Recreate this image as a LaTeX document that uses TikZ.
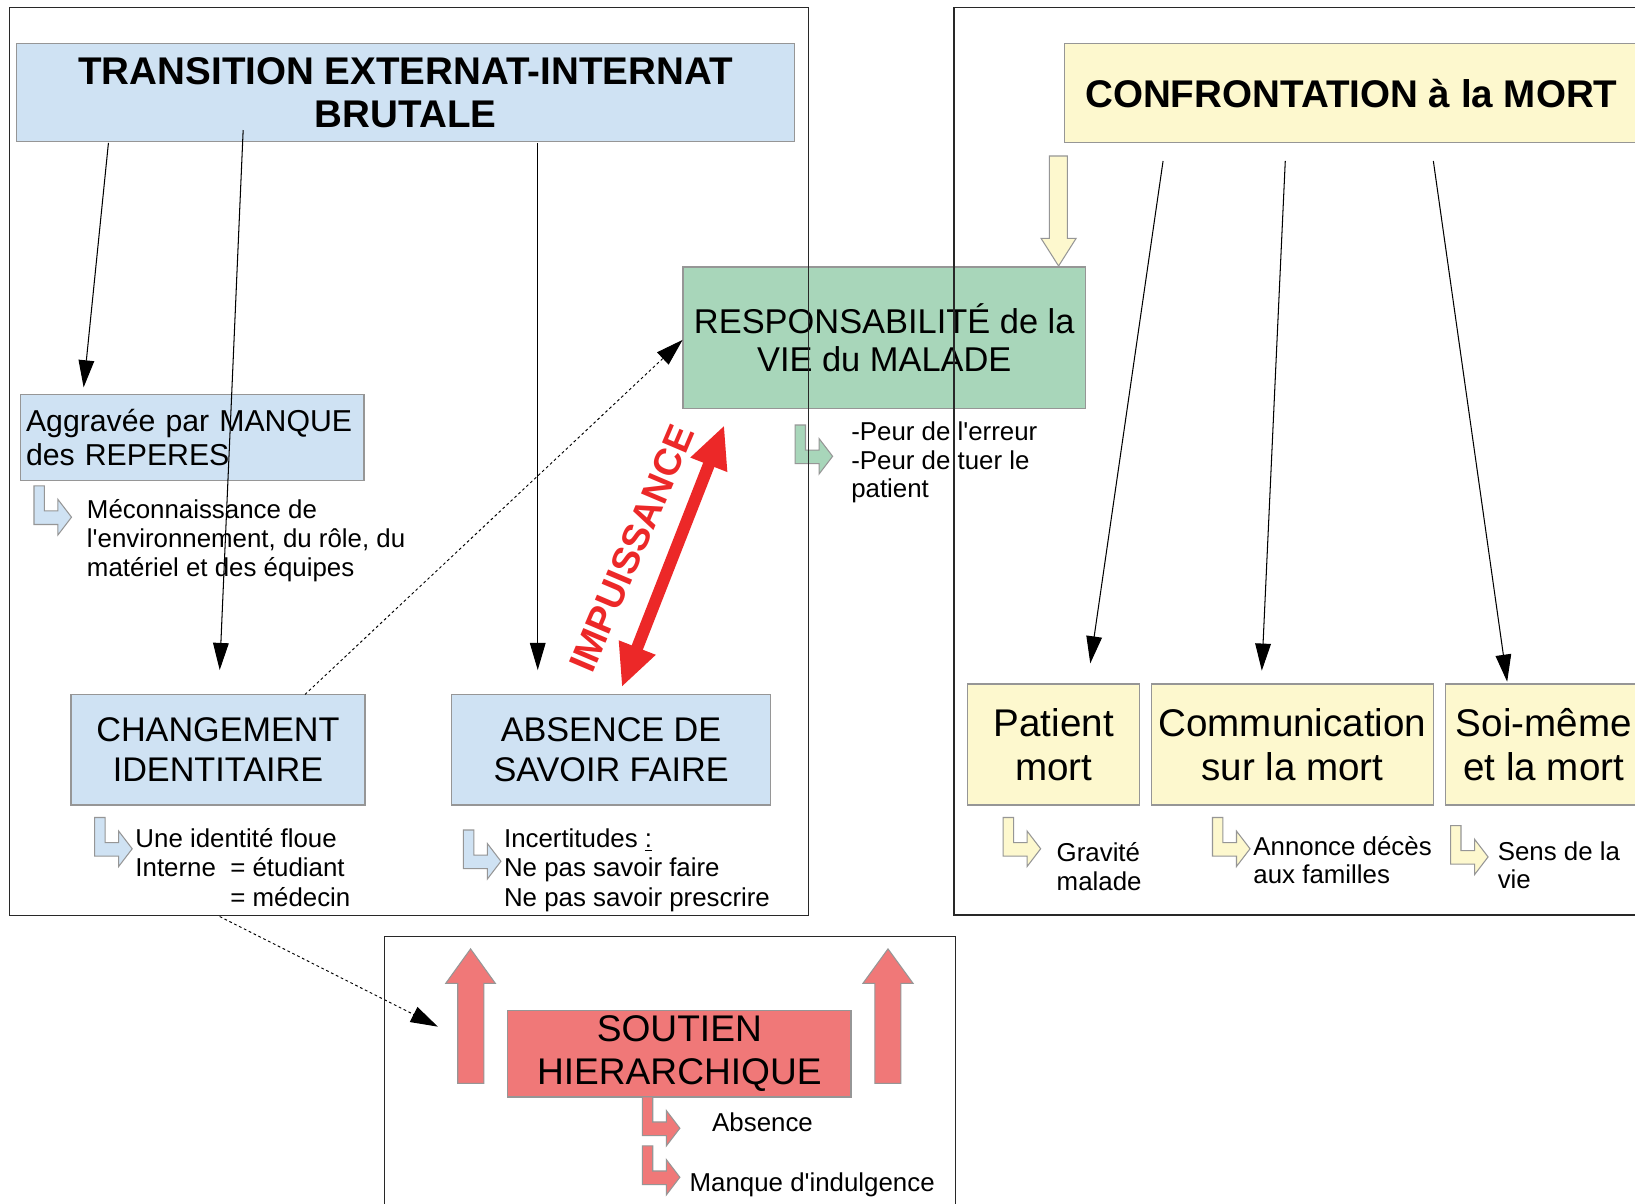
\documentclass[tikz,border=0pt]{standalone}
\usepackage{fontspec}
\setmainfont{Liberation Sans}
\usetikzlibrary{arrows.meta}
\definecolor{cblue}{RGB}{207,226,243}
\definecolor{cyel}{RGB}{253,248,206}
\definecolor{cgreen}{RGB}{168,214,186}
\definecolor{csalm}{RGB}{240,120,120}
\definecolor{cred}{RGB}{236,40,40}
\definecolor{cline}{RGB}{150,150,150}
\definecolor{cframe}{RGB}{40,40,40}
\begin{document}
\begin{tikzpicture}[x=0.5pt,y=-0.5pt,
 box/.style={draw=cline, line width=0.6pt, inner sep=0pt, outer sep=0pt, align=center},
 note/.style={anchor=base west, inner sep=0pt, align=left, font=\fontsize{12.4pt}{14pt}\selectfont},
 bentarrow/.pic={\path[pic actions] (0,0) -- (10,0) -- (10,24) -- (23,24) -- (23,13) -- (36,30) -- (23,47) -- (23,37) -- (0,37) -- cycle;},
 conn/.style={line width=0.5pt, -{Triangle[length=13pt,width=7.5pt]}},
 dconn/.style={line width=0.45pt, dash pattern=on 1.3pt off 1.3pt, -{Triangle[length=13pt,width=8pt]}},
 frame/.style={draw=cframe, line width=0.6pt},
 blockarr/.style={draw=cline, line width=0.5pt},
 bigfont/.style={font=\bfseries\fontsize{18.5pt}{20.75pt}\selectfont},
]
\useasboundingbox (0,0) rectangle (1568,1153.8);
\fill[white] (0,0) rectangle (1568,1153.8);
\clip (0,0) rectangle (1568,1153.8);

% main boxes
\node[box, fill=cblue, minimum width=373pt, minimum height=47pt, bigfont] (trans) at (389,89) {TRANSITION EXTERNAT-INTERNAT\\BRUTALE};
\node[box, fill=cyel, minimum width=275pt, minimum height=47.5pt, bigfont] (confr) at (1296,89.5) {CONFRONTATION à la MORT};
\node[box, fill=cgreen, minimum width=193pt, minimum height=68pt, font=\fontsize{16.5pt}{18.4pt}\selectfont] (resp) at (848,324) {RESPONSABILITÉ de la\\VIE du MALADE};
\node[box, fill=cblue, minimum width=164.5pt, minimum height=41.5pt, inner xsep=2.5pt, text width=159.5pt, align=left, font=\fontsize{14.5pt}{16.5pt}\selectfont] (aggr) at (184.5,419.5) {Aggravée par MANQUE\\des REPERES};
\node[box, fill=cblue, minimum width=141pt, minimum height=53pt, font=\fontsize{16.4pt}{19pt}\selectfont] (chg) at (209,719) {CHANGEMENT\\IDENTITAIRE};
\node[box, fill=cblue, minimum width=153pt, minimum height=53pt, font=\fontsize{16.4pt}{19pt}\selectfont] (abs) at (586,719) {ABSENCE DE\\SAVOIR FAIRE};
\node[box, fill=csalm, minimum width=164.5pt, minimum height=41.5pt, font=\fontsize{17.8pt}{20.8pt}\selectfont] (sout) at (651.5,1010.5) {SOUTIEN\\HIERARCHIQUE};
\node[box, fill=cyel, minimum width=82.5pt, minimum height=58pt, font=\fontsize{18.5pt}{21pt}\selectfont] (pm) at (1010.5,714) {Patient\\mort};
\node[box, fill=cyel, minimum width=135.5pt, minimum height=58pt, font=\fontsize{18.5pt}{21pt}\selectfont] (com) at (1239.5,714) {Communication\\sur la mort};
\node[box, fill=cyel, minimum width=94.5pt, minimum height=58pt, font=\fontsize{18.5pt}{21pt}\selectfont] (soi) at (1480.5,714) {Soi-même\\et la mort};

% block arrows
\draw[blockarr, fill=cyel] (1006.4,149.6) -- (1023.6,149.6) -- (1023.6,228.6) -- (1032,228.6) -- (1015.2,255.1) -- (998.4,228.6) -- (1006.4,228.6) -- cycle;
\draw[blockarr, fill=csalm] (439,1039) -- (464,1039) -- (464,943) -- (475,943) -- (451.3,910) -- (427.5,943) -- (439,943) -- cycle;
\draw[blockarr, fill=csalm] (839,1039) -- (864,1039) -- (864,943) -- (875.6,943) -- (851.6,910) -- (827.6,943) -- (839,943) -- cycle;

% bent arrows
\pic[fill=cblue, draw=cline, line width=0.5pt] at (32.6,466) {bentarrow};
\pic[fill=cblue, draw=cline, line width=0.5pt] at (90.8,784) {bentarrow};
\pic[fill=cblue, draw=cline, line width=0.5pt] at (444.4,796) {bentarrow};
\pic[fill=cgreen, draw=cline, line width=0.5pt] at (762.5,407.6) {bentarrow};
\pic[fill=cyel, draw=cline, line width=0.5pt] at (962,784) {bentarrow};
\pic[fill=cyel, draw=cline, line width=0.5pt] at (1162.8,784) {bentarrow};
\pic[fill=cyel, draw=cline, line width=0.5pt] at (1391.1,791.8) {bentarrow};
\pic[fill=csalm, draw=cline, line width=0.5pt] at (616,1052) {bentarrow};
\pic[fill=csalm, draw=cline, line width=0.5pt] at (616,1099) {bentarrow};

% notes (anchored on the baseline of their last line)
\node[note] (n1) at (83,553) {Méconnaissance de\\l\textquotesingle environnement, du rôle, du\\matériel et des équipes};
\node[note] (n2) at (129.5,869) {Une identité floue\\Interne\ \ = étudiant\\\phantom{Interne\ \ }= médecin};
\node[note] (n3) at (483,869) {Incertitudes \underline{:}\\Ne pas savoir faire\\Ne pas savoir prescrire};
\node[note, font=\fontsize{12.4pt}{13.75pt}\selectfont] (n4) at (816,477.5) {-Peur de l\textquotesingle erreur\\-Peur de tuer le\\patient};
\node[note, font=\fontsize{12.4pt}{13.6pt}\selectfont] (n5) at (1013,853.6) {Gravité\\malade};
\node[note, font=\fontsize{12.4pt}{13.6pt}\selectfont] (n6) at (1201.7,847.2) {Annonce décès\\aux familles};
\node[note, font=\fontsize{12.4pt}{13.6pt}\selectfont] (n7) at (1436,852) {Sens de la\\vie};
\node[note] (n8) at (682.6,1084.7) {Absence};
\node[note] (n9) at (661,1142.9) {Manque d\textquotesingle indulgence};

% connector end points
\coordinate (t1) at (104,137);     \coordinate (t1e) at (80.2,371.5);
\coordinate (t2) at (233.2,124.7); \coordinate (t2e) at (210.7,642.6);
\coordinate (t3) at (515.7,137);   \coordinate (t3e) at (515.7,642.6);
\coordinate (d1) at (292.5,666);   \coordinate (d1e) at (654.6,326);
\coordinate (d2) at (210.7,879);   \coordinate (d2e) at (419.9,984.6);
\coordinate (c1) at (1115.4,154.4); \coordinate (c1e) at (1045.6,636.2);
\coordinate (c2) at (1232.6,154.4); \coordinate (c2e) at (1210.1,643.2);
\coordinate (c3) at (1374.6,154.4); \coordinate (c3e) at (1445.4,653.8);
\coordinate (ib) at (596.2,659.2);  \coordinate (it) at (694.7,407.6);

\draw[conn] (t1) -- (t1e);
\draw[conn] (t2) -- (t2e);
\draw[conn] (t3) -- (t3e);
\draw[dconn] (d1) -- (d1e);
\draw[dconn] (d2) -- (d2e);
\draw[conn] (c1) -- (c1e);
\draw[conn] (c2) -- (c2e);
\draw[conn] (c3) -- (c3e);

% frames
\draw[frame] (9,7) rectangle (775,878.2);
\draw[frame] (1580,7) -- (915,7) -- (915,877.5) -- (1580,877.5);
\draw[frame] (369,1165) -- (369,898.3) -- (916,898.3) -- (916,1165);

% impuissance
\draw[draw=cred, line width=5.75pt, {Triangle[length=20.5pt,width=17.4pt]}-{Triangle[length=20.5pt,width=17.4pt]}] (ib) -- (it);
\node[font=\bfseries\fontsize{18.2pt}{20pt}\selectfont, text=cred, rotate=67, inner sep=0pt] (impu) at (606,526) {IMPUISSANCE};
\end{tikzpicture}
\end{document}
